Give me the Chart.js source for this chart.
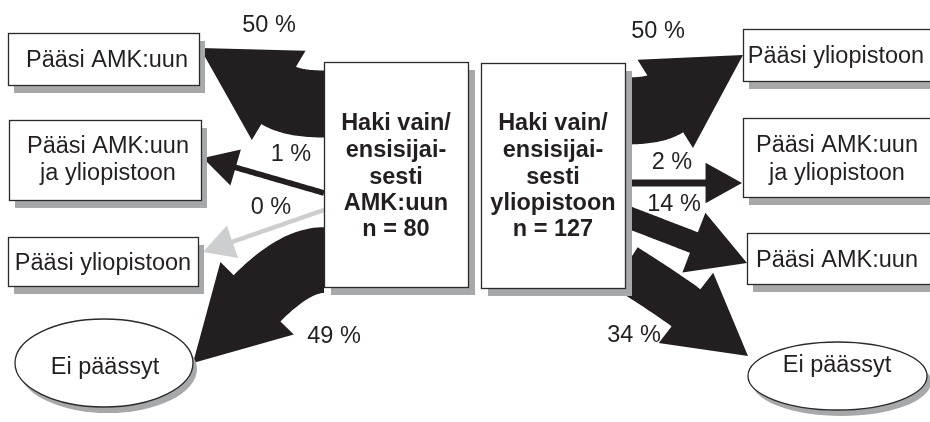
<!DOCTYPE html>
<html>
<head>
<meta charset="utf-8">
<script src="https://cdn.jsdelivr.net/npm/chart.js@4.4.1/dist/chart.umd.min.js"></script>
<style>
html,body{margin:0;padding:0;background:#ffffff;}
#wrap{width:930px;height:422px;position:relative;}
</style>
</head>
<body>
<div id="wrap"><canvas id="c" width="930" height="422"></canvas></div>
<script>
// ---------------- DATA ----------------
const sourceLabels = [
  ["Haki vain/", "ensisijai-", "sesti", "AMK:uun", "n = 80"],
  ["Haki vain/", "ensisijai-", "sesti", "yliopistoon", "n = 127"]
];
const outcomeLabelsAMK = [["Pääsi AMK:uun"], ["Pääsi AMK:uun", "ja yliopistoon"], ["Pääsi yliopistoon"], ["Ei päässyt"]];
const sharesAMK = [50, 1, 0, 49];
const outcomeLabelsYO = [["Pääsi yliopistoon"], ["Pääsi AMK:uun", "ja yliopistoon"], ["Pääsi AMK:uun"], ["Ei päässyt"]];
const sharesYO = [50, 2, 14, 34];
const unitLabel = " %";

// ---------------- LAYOUT (chart units: x 0..930, y 0..422 downward) ----------------
const sourceLayout = [
  { x0: 324, y0: 62, x1: 468, y1: 287, cx: 396, lines: [122, 149, 176, 202, 228] },
  { x0: 481, y0: 63, x1: 625, y1: 288, cx: 553, lines: [122, 149, 176, 202, 228] }
];
const targetLayoutAMK = [
  { shape: 'box', x0: 8, y0: 33, x1: 199, y1: 85, cx: 107, lines: [59] },
  { shape: 'box', x0: 9, y0: 120, x1: 201, y1: 200, cx: 108, lines: [145, 172] },
  { shape: 'box', x0: 8, y0: 237, x1: 198, y1: 286, cx: 103, lines: [262] },
  { shape: 'ellipse', ecx: 104, ecy: 363, rx: 89, ry: 44, cx: 105, lines: [366] }
];
const targetLayoutYO = [
  { shape: 'box', x0: 743, y0: 29, x1: 940, y1: 81, cx: 836, lines: [55] },
  { shape: 'box', x0: 743, y0: 118, x1: 940, y1: 197, cx: 837, lines: [144, 172] },
  { shape: 'box', x0: 747, y0: 233, x1: 940, y1: 284, cx: 837, lines: [259] },
  { shape: 'ellipse', ecx: 837.5, ecy: 376, rx: 89.5, ry: 34, cx: 837, lines: [364] }
];
// arrow paths: start S, optional bend control C, tip T
const arrowPathsAMK = [
  { S: [324, 104], C: [293, 104], T: [200, 48] },
  { S: [324, 193], C: null, T: [203, 158] },
  { S: [324, 210], C: null, T: [203, 252] },
  { S: [324, 260], C: [295, 260], T: [193, 363] }
];
const arrowPathsYO = [
  { S: [625, 111], C: [654, 111], T: [743, 55] },
  { S: [625, 183], C: null, T: [742, 183] },
  { S: [625, 216], C: null, T: [747, 263] },
  { S: [625, 267], C: [672, 297], T: [748, 356] }
];
const labelPosAMK = [[269, 24], [291, 153], [271, 206], [334, 335]];
const labelPosYO = [[658, 30], [672, 161], [674, 203], [634, 334]];

const INK = '#231f20';
const ZERO_FILL = '#cdcecf';
const SHADOW = '#a7a8aa';
const FONT = '"Liberation Sans", Arial, Helvetica, sans-serif';
const FONT_SIZE = 23.5;

// ---------------- DRAWING PLUGIN ----------------
function shaftWidth(p) { return 4.5 + 1.25 * p; }
function headWidth(w) { return 10 + 11.5 * Math.sqrt(w); }
function headLength(w) { return 10 + 10 * Math.sqrt(w); }

const flowPlugin = {
  id: 'flowPlugin',
  afterDraw(chart) {
    const ctx = chart.ctx;
    const xs = chart.scales.x, ys = chart.scales.y;
    const px = v => xs.getPixelForValue(v);
    const py = v => ys.getPixelForValue(v);
    const P = a => [px(a[0]), py(a[1])];

    function drawArrow(path, pct) {
      const S = P(path.S), T = P(path.T);
      const w = shaftWidth(pct), hw = headWidth(w), hl = headLength(w);
      const C0 = path.C ? P(path.C) : [(S[0] + T[0]) / 2, (S[1] + T[1]) / 2];
      let dx = T[0] - C0[0], dy = T[1] - C0[1];
      const L = Math.hypot(dx, dy); dx /= L; dy /= L;
      const N = [T[0] - dx * hl, T[1] - dy * hl];
      const C = path.C ? C0 : [(S[0] + N[0]) / 2, (S[1] + N[1]) / 2];
      const left = [], right = [];
      const steps = 30;
      for (let i = 0; i <= steps; i++) {
        const t = i / steps, u = 1 - t;
        const bx = u * u * S[0] + 2 * u * t * C[0] + t * t * N[0];
        const by = u * u * S[1] + 2 * u * t * C[1] + t * t * N[1];
        let tx = 2 * u * (C[0] - S[0]) + 2 * t * (N[0] - C[0]);
        let ty = 2 * u * (C[1] - S[1]) + 2 * t * (N[1] - C[1]);
        const tl = Math.hypot(tx, ty) || 1; tx /= tl; ty /= tl;
        const nx = -ty, ny = tx;
        left.push([bx + nx * w / 2, by + ny * w / 2]);
        right.push([bx - nx * w / 2, by - ny * w / 2]);
      }
      const nx = -dy, ny = dx;
      ctx.beginPath();
      ctx.moveTo(left[0][0], left[0][1]);
      for (const p of left) ctx.lineTo(p[0], p[1]);
      ctx.lineTo(N[0] + nx * hw / 2, N[1] + ny * hw / 2);
      ctx.lineTo(T[0], T[1]);
      ctx.lineTo(N[0] - nx * hw / 2, N[1] - ny * hw / 2);
      for (let i = right.length - 1; i >= 0; i--) ctx.lineTo(right[i][0], right[i][1]);
      ctx.closePath();
      ctx.fillStyle = pct === 0 ? ZERO_FILL : INK;
      ctx.fill();
    }

    function drawBox(b, sdx, sdy) {
      const x0 = px(b.x0), y0 = py(b.y0), x1 = px(b.x1), y1 = py(b.y1);
      ctx.fillStyle = SHADOW;
      ctx.fillRect(x0 + sdx, y0 + sdy, x1 - x0, y1 - y0);
      ctx.fillStyle = '#ffffff';
      ctx.fillRect(x0, y0, x1 - x0, y1 - y0);
      ctx.strokeStyle = '#2a2a2a';
      ctx.lineWidth = 1.3;
      ctx.strokeRect(x0 + 0.5, y0 + 0.5, x1 - x0, y1 - y0);
    }

    function drawEllipse(e) {
      const cx = px(e.ecx), cy = py(e.ecy);
      ctx.beginPath();
      ctx.ellipse(cx + 4, cy + 6, e.rx, e.ry, 0, 0, Math.PI * 2);
      ctx.fillStyle = SHADOW; ctx.fill();
      ctx.beginPath();
      ctx.ellipse(cx, cy, e.rx, e.ry, 0, 0, Math.PI * 2);
      ctx.fillStyle = '#ffffff'; ctx.fill();
      ctx.strokeStyle = '#2a2a2a'; ctx.lineWidth = 1.3; ctx.stroke();
    }

    function drawLines(lines, cx, ys_, bold) {
      ctx.fillStyle = INK;
      ctx.font = (bold ? 'bold ' : '') + FONT_SIZE + 'px ' + FONT;
      ctx.textAlign = 'center';
      ctx.textBaseline = 'alphabetic';
      lines.forEach((s, i) => ctx.fillText(s, px(cx), py(ys_[i]) + 8));
    }

    ctx.save();
    sharesAMK.forEach((p, i) => drawArrow(arrowPathsAMK[i], p));
    sharesYO.forEach((p, i) => drawArrow(arrowPathsYO[i], p));
    sourceLayout.forEach((b, i) => {
      drawBox(b, 7, 8);
      drawLines(sourceLabels[i], b.cx, b.lines, true);
    });
    const drawTargets = (layout, labels) => layout.forEach((n, i) => {
      if (n.shape === 'box') drawBox(n, 6, 8); else drawEllipse(n);
      drawLines(labels[i], n.cx, n.lines, false);
    });
    drawTargets(targetLayoutAMK, outcomeLabelsAMK);
    drawTargets(targetLayoutYO, outcomeLabelsYO);
    sharesAMK.forEach((p, i) => drawLines([p + unitLabel], labelPosAMK[i][0], [labelPosAMK[i][1]], false));
    sharesYO.forEach((p, i) => drawLines([p + unitLabel], labelPosYO[i][0], [labelPosYO[i][1]], false));
    ctx.restore();
  }
};

new Chart(document.getElementById('c'), {
  type: 'scatter',
  data: { datasets: [] },
  options: {
    responsive: false,
    animation: false,
    devicePixelRatio: 1,
    layout: { padding: 0 },
    plugins: { legend: { display: false }, tooltip: { enabled: false } },
    scales: {
      x: { type: 'linear', min: 0, max: 930, display: false },
      y: { type: 'linear', min: 0, max: 422, reverse: true, display: false }
    }
  },
  plugins: [flowPlugin]
});
</script>
</body>
</html>
